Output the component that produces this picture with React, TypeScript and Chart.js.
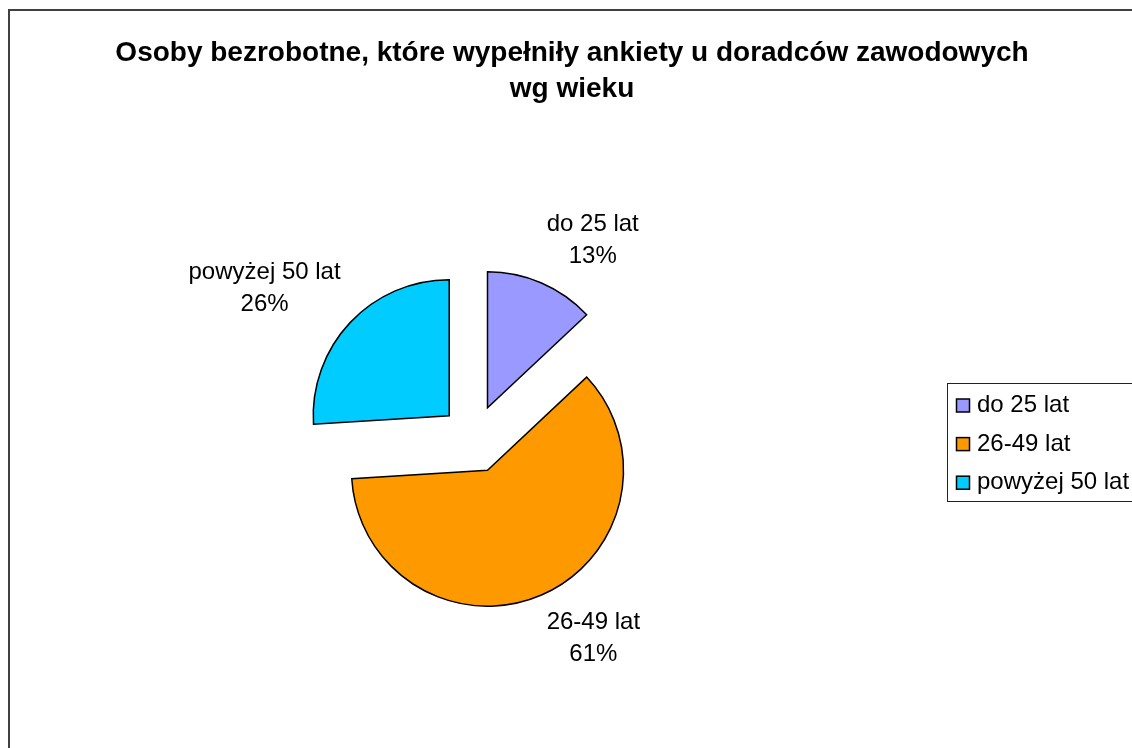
import React, { useEffect, useRef } from "react";
import { Chart, registerables } from "chart.js";

Chart.register(...registerables);

// ---- data ----
const categories = ["do 25 lat", "26-49 lat", "powyżej 50 lat"];
const shares = [13, 61, 26];
const sliceColors = ["#9999FF", "#FF9900", "#00CCFF"];
const titleLines = [
  "Osoby bezrobotne, które wypełniły ankiety u doradców zawodowych",
  "wg wieku",
];

// ---- styling constants ----
const FONT = '"Liberation Sans", Arial, Helvetica, sans-serif';
const EXPLODE = 34;
const LABEL_GAP = 13;
const W = 1124;
const H = 740;

const framePlugin = {
  id: "frame",
  beforeDraw(chart: any) {
    const ctx = chart.ctx as CanvasRenderingContext2D;
    ctx.save();
    ctx.fillStyle = "#ffffff";
    ctx.fillRect(0, 0, chart.width, chart.height);
    ctx.strokeStyle = "#404040";
    ctx.lineWidth = 2;
    ctx.strokeRect(1, 2, chart.width + 20, chart.height + 20);
    ctx.restore();
  },
};

const explodePlugin = {
  id: "explode",
  afterDatasetsUpdate(chart: any) {
    const meta = chart.getDatasetMeta(0);
    meta.data.forEach((arc: any) => {
      const mid = (arc.startAngle + arc.endAngle) / 2;
      arc.x += Math.cos(mid) * EXPLODE;
      arc.y += Math.sin(mid) * EXPLODE;
    });
  },
};

const titlePlugin = {
  id: "titleText",
  afterDraw(chart: any) {
    const ctx = chart.ctx as CanvasRenderingContext2D;
    ctx.save();
    ctx.font = `bold 28px ${FONT}`;
    ctx.fillStyle = "#000";
    ctx.textAlign = "center";
    ctx.textBaseline = "alphabetic";
    titleLines.forEach((line, k) => ctx.fillText(line, 564, 53 + k * 36));
    ctx.restore();
  },
};

const labelPlugin = {
  id: "sliceLabels",
  afterDatasetsDraw(chart: any) {
    const ctx = chart.ctx as CanvasRenderingContext2D;
    const meta = chart.getDatasetMeta(0);
    const total = shares.reduce((a, b) => a + b, 0);
    ctx.save();
    ctx.font = `24px ${FONT}`;
    ctx.fillStyle = "#000";
    ctx.textAlign = "center";
    ctx.textBaseline = "alphabetic";
    meta.data.forEach((arc: any, i: number) => {
      const mid = (arc.startAngle + arc.endAngle) / 2;
      const dx = Math.cos(mid);
      const dy = Math.sin(mid);
      const ax = arc.x + dx * (arc.outerRadius + LABEL_GAP);
      // labels on steeper slices sit a bit farther away vertically
      const ay = arc.y + dy * (arc.outerRadius + LABEL_GAP) + (Math.abs(dy) < 0.8 ? 5 : 0);
      const lines = [categories[i], Math.round((shares[i] / total) * 100) + "%"];
      const w = Math.max(...lines.map((l) => ctx.measureText(l).width));
      const h = 22 + 32 * (lines.length - 1) + 8;
      const left = dx >= 0 ? ax : ax - w;
      const top = dy >= 0 ? ay : ay - h;
      lines.forEach((l, k) => ctx.fillText(l, left + w / 2, top + 22 + k * 32));
    });
    ctx.restore();
  },
};

const legendPlugin = {
  id: "boxLegend",
  afterDraw(chart: any) {
    const ctx = chart.ctx as CanvasRenderingContext2D;
    const bx = 939;
    const by = 375;
    const bh = 118;
    ctx.save();
    ctx.strokeStyle = "#222";
    ctx.lineWidth = 1;
    ctx.strokeRect(bx + 0.5, by + 0.5, 400, bh);
    ctx.font = `24px ${FONT}`;
    ctx.textAlign = "left";
    ctx.textBaseline = "alphabetic";
    categories.forEach((c, i) => {
      const base = by + 29 + i * 38.6;
      ctx.fillStyle = sliceColors[i];
      ctx.fillRect(bx + 9.5, base - 13, 13, 13);
      ctx.strokeStyle = "#000";
      ctx.lineWidth = 1.5;
      ctx.strokeRect(bx + 9.5, base - 13, 13, 13);
      ctx.fillStyle = "#000";
      ctx.fillText(c, bx + 30, base);
    });
    ctx.restore();
  },
};

export default function App() {
  const ref = useRef<HTMLCanvasElement | null>(null);
  useEffect(() => {
    if (!ref.current) return;
    const chart = new Chart(ref.current, {
      type: "pie",
      data: {
        labels: categories,
        datasets: [
          {
            data: shares,
            backgroundColor: sliceColors,
            borderColor: "#000000",
            borderWidth: 1.5,
            borderJoinStyle: "miter",
            radius: 136,
          } as any,
        ],
      },
      options: {
        animation: false,
        responsive: false,
        radius: 136,
        layout: { padding: { left: 0, right: 192, top: 122, bottom: 0 } },
        plugins: {
          legend: { display: false },
          title: { display: false },
          tooltip: { enabled: true },
        },
      } as any,
      plugins: [framePlugin, explodePlugin, labelPlugin, titlePlugin, legendPlugin],
    });
    return () => chart.destroy();
  }, []);
  return (
    <div style={{ position: "fixed", left: 8, top: 8, width: W, height: H, overflow: "hidden" }}>
      <canvas ref={ref} width={W} height={H} style={{ display: "block" }} />
    </div>
  );
}
